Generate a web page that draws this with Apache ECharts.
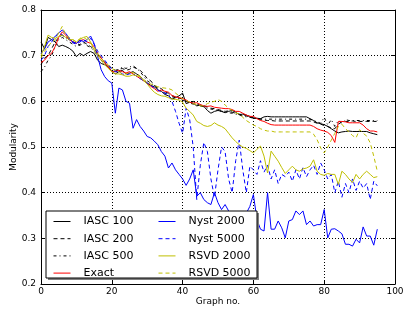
<!DOCTYPE html>
<html>
<head>
<meta charset="utf-8">
<script src="https://cdn.jsdelivr.net/npm/echarts@6/dist/echarts.min.js"></script>
<style>
  body { margin: 0; background: #fff; }
  #main { width: 405px; height: 313px; }
</style>
</head>
<body>
<div id="main"></div>
<script>
// x: graph number 0..95
const graphNo = Array.from({ length: 96 }, (_, i) => i)
const xTicks = [0, 20, 40, 60, 80, 100]
const yTicks = [0.2, 0.3, 0.4, 0.5, 0.6, 0.7, 0.8]

const iasc100 = [
  0.73, 0.715, 0.74, 0.735, 0.73, 0.72, 0.723, 0.72, 0.716, 0.71,
  0.698, 0.705, 0.70, 0.705, 0.709, 0.705, 0.69, 0.683, 0.68, 0.676,
  0.665, 0.66, 0.665, 0.668, 0.66, 0.662, 0.665, 0.66, 0.655, 0.645,
  0.64, 0.635, 0.632, 0.625, 0.622, 0.615, 0.612, 0.605, 0.608, 0.612,
  0.618, 0.595, 0.598, 0.596, 0.59, 0.592, 0.589, 0.58, 0.574, 0.578,
  0.58, 0.578, 0.575, 0.578, 0.58, 0.576, 0.571, 0.572, 0.57, 0.567,
  0.564, 0.563, 0.562, 0.566, 0.567, 0.566, 0.566, 0.566, 0.566, 0.566,
  0.566, 0.566, 0.566, 0.566, 0.566, 0.566, 0.562, 0.558, 0.553, 0.551,
  0.549, 0.545, 0.54, 0.535, 0.531, 0.533, 0.534, 0.535, 0.534, 0.534,
  0.534, 0.534, 0.534, 0.531, 0.529, 0.527
]
const iasc200 = [
  0.68, 0.695, 0.70, 0.715, 0.73, 0.74, 0.745, 0.74, 0.735, 0.73,
  0.728, 0.722, 0.73, 0.725, 0.72, 0.715, 0.705, 0.695, 0.685, 0.68,
  0.672, 0.668, 0.67, 0.672, 0.668, 0.67, 0.675, 0.672, 0.668, 0.66,
  0.65, 0.645, 0.635, 0.63, 0.628, 0.62, 0.618, 0.612, 0.61, 0.607,
  0.605, 0.60, 0.598, 0.60, 0.595, 0.59, 0.59, 0.588, 0.585, 0.584,
  0.582, 0.58, 0.578, 0.579, 0.576, 0.574, 0.572, 0.57, 0.568, 0.566,
  0.563, 0.562, 0.56, 0.559, 0.558, 0.558, 0.557, 0.557, 0.557, 0.557,
  0.557, 0.557, 0.557, 0.557, 0.557, 0.557, 0.557, 0.555, 0.552, 0.55,
  0.547, 0.545, 0.542, 0.54, 0.55, 0.555, 0.556, 0.556, 0.557, 0.556,
  0.556, 0.556, 0.556, 0.556, 0.556, 0.556
]
const iasc500 = [
  0.665, 0.675, 0.69, 0.70, 0.72, 0.735, 0.74, 0.735, 0.73, 0.725,
  0.72, 0.725, 0.728, 0.722, 0.718, 0.71, 0.70, 0.69, 0.682, 0.675,
  0.668, 0.665, 0.67, 0.675, 0.672, 0.675, 0.678, 0.672, 0.665, 0.655,
  0.645, 0.64, 0.635, 0.628, 0.622, 0.618, 0.615, 0.61, 0.608, 0.605,
  0.602, 0.60, 0.596, 0.594, 0.592, 0.59, 0.588, 0.585, 0.583, 0.582,
  0.58, 0.578, 0.578, 0.575, 0.574, 0.572, 0.57, 0.568, 0.566, 0.565,
  0.563, 0.562, 0.562, 0.561, 0.561, 0.561, 0.561, 0.561, 0.561, 0.561,
  0.561, 0.561, 0.561, 0.561, 0.561, 0.561, 0.561, 0.558, 0.555, 0.552,
  0.565, 0.548, 0.56, 0.545, 0.558, 0.552, 0.56, 0.558, 0.558, 0.558,
  0.558, 0.558, 0.558, 0.558, 0.558, 0.558
]
const exact = [
  0.685, 0.69, 0.70, 0.705, 0.72, 0.74, 0.752, 0.745, 0.735, 0.73,
  0.727, 0.733, 0.735, 0.73, 0.727, 0.72, 0.705, 0.695, 0.685, 0.675,
  0.665, 0.665, 0.668, 0.665, 0.662, 0.665, 0.66, 0.655, 0.65, 0.645,
  0.64, 0.633, 0.628, 0.622, 0.625, 0.622, 0.62, 0.613, 0.61, 0.608,
  0.606, 0.603, 0.598, 0.596, 0.597, 0.593, 0.59, 0.589, 0.59, 0.587,
  0.586, 0.585, 0.584, 0.584, 0.582, 0.578, 0.578, 0.574, 0.57, 0.567,
  0.567, 0.562, 0.558, 0.556, 0.552, 0.549, 0.548, 0.548, 0.548, 0.548,
  0.548, 0.548, 0.548, 0.548, 0.548, 0.548, 0.548, 0.545, 0.54, 0.537,
  0.535, 0.532, 0.525, 0.51, 0.556, 0.556, 0.555, 0.553, 0.553, 0.553,
  0.553, 0.548, 0.54, 0.535, 0.535, 0.533
]
const nyst2000 = [
  0.705, 0.715, 0.73, 0.735, 0.742, 0.75, 0.756, 0.749, 0.738, 0.73,
  0.727, 0.734, 0.731, 0.735, 0.743, 0.727, 0.698, 0.669, 0.654, 0.645,
  0.64, 0.574, 0.629, 0.625, 0.60, 0.596, 0.541, 0.56, 0.545, 0.535,
  0.523, 0.52, 0.513, 0.505, 0.49, 0.48, 0.454, 0.465, 0.45, 0.44,
  0.43, 0.416, 0.43, 0.45, 0.392, 0.40, 0.385, 0.378, 0.374, 0.40,
  0.378, 0.363, 0.374, 0.36, 0.35, 0.34, 0.345, 0.335, 0.355, 0.37,
  0.396, 0.341, 0.32, 0.316, 0.40, 0.32, 0.32, 0.338, 0.323, 0.301,
  0.338, 0.341, 0.36, 0.352, 0.36, 0.33, 0.338, 0.327, 0.33, 0.33,
  0.363, 0.301, 0.32, 0.321, 0.316, 0.31, 0.287, 0.287, 0.283, 0.298,
  0.29, 0.325, 0.305, 0.305, 0.285, 0.32
]
const nyst5000 = [
  0.69, 0.70, 0.72, 0.73, 0.74, 0.75, 0.745, 0.74, 0.735, 0.728,
  0.725, 0.73, 0.735, 0.73, 0.738, 0.725, 0.71, 0.70, 0.69, 0.68,
  0.67, 0.665, 0.665, 0.66, 0.658, 0.66, 0.66, 0.655, 0.65, 0.645,
  0.64, 0.635, 0.63, 0.625, 0.62, 0.618, 0.615, 0.60, 0.578, 0.552,
  0.53, 0.585, 0.56, 0.50, 0.385, 0.46, 0.51, 0.49, 0.43, 0.39,
  0.45, 0.50, 0.49, 0.43, 0.40, 0.47, 0.515, 0.45, 0.40, 0.458,
  0.45, 0.44, 0.47, 0.445, 0.46, 0.43, 0.45, 0.42, 0.44, 0.435,
  0.445, 0.425, 0.45, 0.43, 0.455, 0.435, 0.45, 0.46, 0.44, 0.465,
  0.45, 0.43, 0.44, 0.40, 0.425, 0.39, 0.42, 0.40, 0.43, 0.405,
  0.425, 0.41, 0.42, 0.385, 0.425, 0.415
]
const rsvd2000 = [
  0.70, 0.72, 0.745, 0.74, 0.738, 0.742, 0.745, 0.74, 0.735, 0.735,
  0.73, 0.736, 0.74, 0.742, 0.73, 0.712, 0.70, 0.69, 0.68, 0.672,
  0.665, 0.66, 0.66, 0.658, 0.655, 0.655, 0.658, 0.656, 0.654, 0.645,
  0.638, 0.628, 0.62, 0.615, 0.612, 0.611, 0.608, 0.605, 0.604, 0.603,
  0.598, 0.585, 0.578, 0.57, 0.556, 0.552, 0.547, 0.545, 0.547, 0.553,
  0.548, 0.545, 0.54, 0.53, 0.52, 0.512, 0.505, 0.50, 0.497, 0.492,
  0.487, 0.495, 0.502, 0.48, 0.443, 0.491, 0.48, 0.469, 0.455, 0.442,
  0.45, 0.458, 0.45, 0.447, 0.452, 0.454, 0.458, 0.472, 0.447, 0.44,
  0.438, 0.442, 0.44, 0.44, 0.418, 0.447, 0.44, 0.43, 0.422, 0.44,
  0.43, 0.44, 0.447, 0.44, 0.433, 0.435
]
const rsvd5000 = [
  0.695, 0.71, 0.72, 0.73, 0.735, 0.75, 0.764, 0.745, 0.74, 0.735,
  0.73, 0.738, 0.74, 0.735, 0.728, 0.72, 0.705, 0.695, 0.685, 0.68,
  0.672, 0.668, 0.665, 0.66, 0.66, 0.662, 0.663, 0.66, 0.655, 0.648,
  0.642, 0.638, 0.635, 0.632, 0.63, 0.629, 0.628, 0.625, 0.618, 0.612,
  0.605, 0.602, 0.598, 0.595, 0.593, 0.59, 0.59, 0.595, 0.598, 0.60,
  0.604, 0.60, 0.592, 0.585, 0.58, 0.575, 0.572, 0.565, 0.558, 0.553,
  0.548, 0.545, 0.54, 0.537, 0.535, 0.535, 0.533, 0.533, 0.533, 0.533,
  0.533, 0.533, 0.533, 0.533, 0.533, 0.533, 0.533, 0.528, 0.516, 0.498,
  0.487, 0.50, 0.515, 0.53, 0.545, 0.55, 0.54, 0.533, 0.525, 0.52,
  0.538, 0.53, 0.524, 0.509, 0.48, 0.447
]

const font = 'DejaVu Sans'
const black = '#000'
const red = '#ff0000'
const blue = '#0000ff'
const olive = '#bfbf00'

// name, values, colour, dash
const lines = [
  ['IASC 100', iasc100, black, 'solid'],
  ['IASC 200', iasc200, black, [4, 3]],
  ['IASC 500', iasc500, black, [3, 3, 1, 3]],
  ['Exact', exact, red, 'solid'],
  ['Nyst 2000', nyst2000, blue, 'solid'],
  ['Nyst 5000', nyst5000, blue, [4, 3]],
  ['RSVD 2000', rsvd2000, olive, 'solid'],
  ['RSVD 5000', rsvd5000, olive, [4, 3]]
]

const chart = echarts.init(document.getElementById('main'))

const tickStyle = { show: true, inside: true, length: 4, lineStyle: { color: black, width: 1 } }
const lineAxis = { show: true, onZero: false, lineStyle: { color: black, width: 1 } }

function legendAt (left, items) {
  return {
    orient: 'vertical',
    left: left,
    top: 216,
    padding: 0,
    itemWidth: 17,
    itemHeight: 12,
    itemGap: 6.2,
    z: 30,
    data: items.map(l => ({
      name: l[0],
      itemStyle: { opacity: 0 },
      lineStyle: { color: l[2], type: l[3], width: 1 }
    })),
    textStyle: { fontFamily: font, fontSize: 11, color: black, padding: [0, 0, 0, 8] }
  }
}

const option = {
  animation: false,
  grid: { left: 41, right: 10, top: 10, bottom: 29, outerBoundsMode: 'none', containLabel: false },
  xAxis: [
    {
      type: 'value',
      min: xTicks[0],
      max: xTicks[xTicks.length - 1],
      interval: 20,
      position: 'bottom',
      name: 'Graph no.',
      nameLocation: 'middle',
      nameGap: 13,
      nameMoveOverlap: false,
      nameTextStyle: { fontFamily: font, fontSize: 9, color: black },
      axisLine: lineAxis,
      axisTick: tickStyle,
      axisLabel: { fontFamily: font, fontSize: 9, color: black, margin: 3 },
      splitLine: { show: true, lineStyle: { color: black, width: 1, type: [1, 2] } }
    },
    {
      type: 'value',
      min: xTicks[0],
      max: xTicks[xTicks.length - 1],
      interval: 20,
      position: 'top',
      axisLine: lineAxis,
      axisTick: tickStyle,
      axisLabel: { show: false },
      splitLine: { show: false }
    }
  ],
  yAxis: [
    {
      type: 'value',
      min: yTicks[0],
      max: yTicks[yTicks.length - 1],
      interval: 0.1,
      position: 'left',
      name: 'Modularity',
      nameLocation: 'middle',
      nameGap: 23,
      nameMoveOverlap: false,
      nameTextStyle: { fontFamily: font, fontSize: 9, color: black },
      axisLine: lineAxis,
      axisTick: tickStyle,
      axisLabel: { fontFamily: font, fontSize: 9, color: black, margin: 5, formatter: v => v.toFixed(1) },
      splitLine: { show: true, lineStyle: { color: black, width: 1, type: [1, 2] } }
    },
    {
      type: 'value',
      min: yTicks[0],
      max: yTicks[yTicks.length - 1],
      interval: 0.1,
      position: 'right',
      axisLine: lineAxis,
      axisTick: tickStyle,
      axisLabel: { show: false },
      splitLine: { show: false }
    }
  ],
  legend: [
    legendAt(53, lines.slice(0, 4)),
    legendAt(158, lines.slice(4))
  ],
  graphic: [
    // legend frame with a shadow, drawn over the lines
    { type: 'rect', z: 20, shape: { x: 48, y: 213, width: 211, height: 67 }, style: { fill: '#7f7f7f' } },
    { type: 'rect', z: 21, shape: { x: 46, y: 211, width: 211, height: 67 }, style: { fill: '#fff', stroke: black, lineWidth: 1 } }
  ],
  series: lines.map(l => ({
    name: l[0],
    type: 'line',
    symbol: 'none',
    data: graphNo.map((x, i) => [x, l[1][i]]),
    lineStyle: { color: l[2], width: 1, type: l[3] },
    itemStyle: { color: l[2] }
  }))
}

chart.setOption(option)
</script>
</body>
</html>
